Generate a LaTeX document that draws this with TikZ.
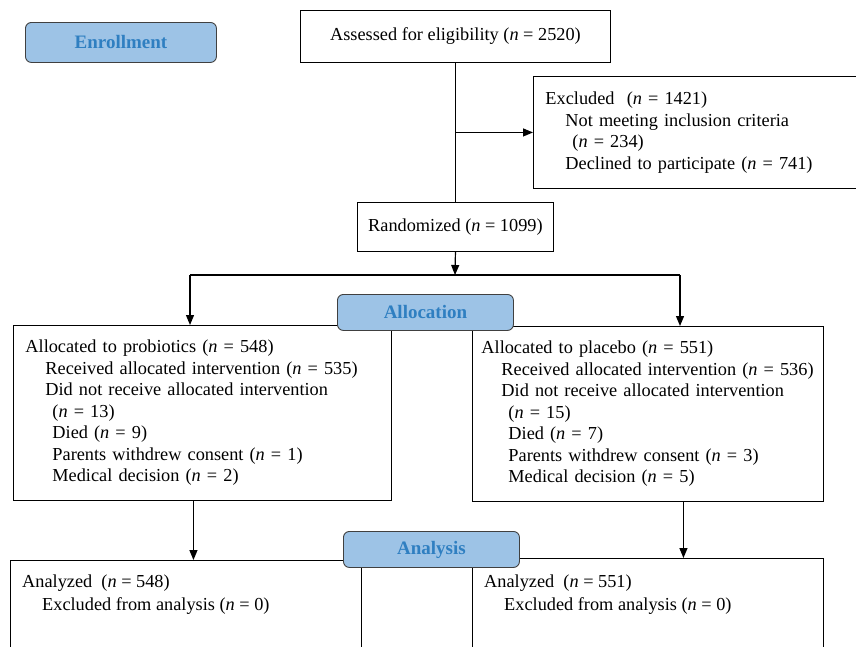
\documentclass[tikz,border=0pt]{standalone}
\usepackage{fontspec}
\setmainfont{Liberation Serif}
\usetikzlibrary{arrows.meta, positioning}

\definecolor{stagefill}{HTML}{9DC3E6}
\definecolor{stagetext}{HTML}{2F7FC1}
\newcommand{\cnt}[1]{(\textit{n} = #1)}
\newcommand{\ind}{\hspace*{20pt}}
\newcommand{\indd}{\hspace*{27pt}}

\begin{document}
\begin{tikzpicture}[
			x=1pt, y=-1pt,
			box/.style={draw, line width=0.9pt, align=left, inner xsep=12pt, anchor=north west, font=\fontsize{18.3}{21.5}\selectfont},
			txt/.style={align=left, inner sep=0pt, anchor=north west, font=\fontsize{18.3}{22.5}\selectfont},
			stagebox/.style={draw=black!75, line width=0.9pt, rounded corners=6pt, fill=stagefill, text=stagetext, anchor=north west, font=\fontsize{19}{21}\selectfont\bfseries},
			arrow/.style={-{Triangle[length=10pt, width=8pt]}, line width=1.2pt},
			line/.style={line width=1.2pt}
			]
			
			\useasboundingbox (0,0) rectangle (856,646);
			\clip (0,0) rectangle (856,646);
			
			% --- Enrollment ---
			\node[box, align=center, minimum width=310, minimum height=52] (assess) at (300,10) {Assessed for eligibility \cnt{2520}};
			\node[box, minimum width=326, minimum height=112, text width=302] (excl) at (533,76) {Excluded\ \ \cnt{1421}\\\ind Not meeting inclusion criteria\\\indd\cnt{234}\\\ind Declined to participate \cnt{741}};
			\node[box, align=center, inner xsep=4pt, minimum width=196, minimum height=49] (rand) at (357,202) {Randomized \cnt{1099}};
			
			% --- Allocation ---
			\node[box, minimum width=378, minimum height=175, text width=354] (allocP) at (13,325) {Allocated to probiotics \cnt{548}\\\ind Received allocated intervention \cnt{535}\\\ind Did not receive allocated intervention\\\indd\cnt{13}\\\indd Died \cnt{9}\\\indd Parents withdrew consent \cnt{1}\\\indd Medical decision \cnt{2}};
			\node[box, inner xsep=9pt, minimum width=351, minimum height=175, text width=333] (allocC) at (472,326) {Allocated to placebo \cnt{551}\\\ind Received allocated intervention \cnt{536}\\\ind Did not receive allocated intervention\\\indd\cnt{15}\\\indd Died \cnt{7}\\\indd Parents withdrew consent \cnt{3}\\\indd Medical decision \cnt{5}};
			
			% --- Analysis (boxes run past the page) ---
			\node[box, minimum width=351, minimum height=120] (anaP) at (10,560) {};
			\node[txt] (anaPtxt) at ([xshift=12pt, yshift=-15pt]anaP.north west) {Analyzed\ \ \cnt{548}\\\ind Excluded from analysis \cnt{0}};
			\node[box, minimum width=351, minimum height=120] (anaC) at (472,558) {};
			\node[txt] (anaCtxt) at ([xshift=12pt, yshift=-17pt]anaC.north west) {Analyzed\ \ \cnt{551}\\\ind Excluded from analysis \cnt{0}};
			
			% --- Arrows ---
			\draw[line] (assess.south) -- (rand.north);
			\draw[arrow] (assess.south |- excl.west) -- (excl.west);
			
			\coordinate (split) at (455,275);
			\coordinate (splitL) at (190,275);
			\coordinate (splitR) at (680,275);
			\draw[arrow] (rand.south) -- (split);
			\draw[line] (splitL) -- (splitR);
			\draw[arrow] (splitL) -- (splitL |- allocP.north);
			\draw[arrow] (splitR) -- (splitR |- allocC.north);
			
			\draw[arrow] ([xshift=-9pt]allocP.south) -- ([xshift=-9pt]allocP.south |- anaP.north);
			\draw[arrow] ([xshift=35.5pt]allocC.south) -- ([xshift=35.5pt]allocC.south |- anaC.north);
			
			% --- Stage labels ---
			\node[stagebox, minimum width=191, minimum height=40] (enroll) at (25,22) {Enrollment};
			\node[stagebox, minimum width=176, minimum height=36] (alloc) at (337,294) {Allocation};
			\node[stagebox, minimum width=176, minimum height=36] (analysis) at (343,531) {Analysis};
			
\end{tikzpicture}
\end{document}
